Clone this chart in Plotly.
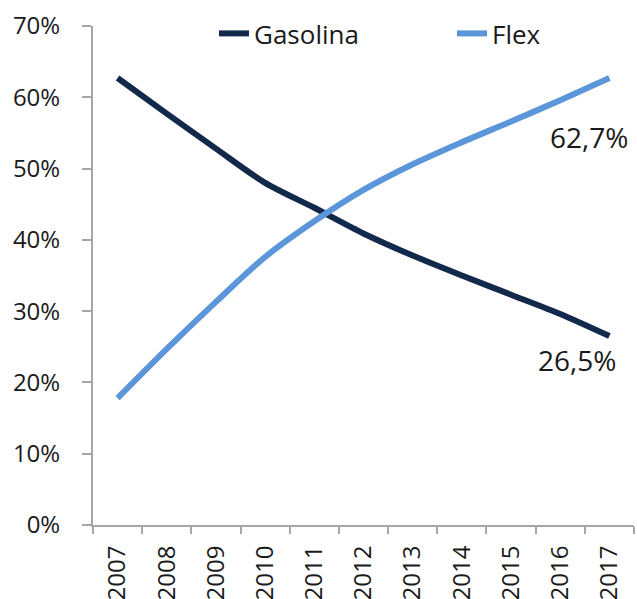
import plotly.graph_objects as go

# Vehicle fleet share by fuel type, 2007-2017 (percent)
years = ["2007", "2008", "2009", "2010", "2011", "2012", "2013", "2014", "2015", "2016", "2017"]
gasolina = [62.7, 57.7, 52.8, 48.0, 44.5, 40.9, 37.8, 35.0, 32.3, 29.6, 26.5]
flex = [17.8, 24.7, 31.3, 37.6, 42.6, 47.0, 50.6, 53.7, 56.6, 59.6, 62.7]
y_ticks = [0, 10, 20, 30, 40, 50, 60, 70]
y_tick_labels = ["0%", "10%", "20%", "30%", "40%", "50%", "60%", "70%"]


def pct_br(v):
    """Format a percentage with a decimal comma."""
    return f"{v:.1f}%".replace(".", ",")


dark = "#13294b"
light = "#5b96db"
axis_grey = "#a6a6a6"
text_col = "#1a1a1a"
font_family = "Open Sans, Liberation Sans, sans-serif"

fig = go.Figure()
fig.add_trace(go.Scatter(
    x=years, y=gasolina, name="Gasolina", mode="lines", legend="legend",
    line=dict(color=dark, width=6, shape="spline", smoothing=0.8),
))
fig.add_trace(go.Scatter(
    x=years, y=flex, name="Flex", mode="lines", legend="legend2",
    line=dict(color=light, width=6, shape="spline", smoothing=0.8),
))

# End-of-series value labels
last = len(years) - 1
fig.add_annotation(x=last, y=flex[-1], xref="x", yref="y", text=pct_br(flex[-1]),
                   showarrow=False, xshift=-20, yshift=-59,
                   font=dict(size=28, color=text_col, family=font_family))
fig.add_annotation(x=last, y=gasolina[-1], xref="x", yref="y", text=pct_br(gasolina[-1]),
                   showarrow=False, xshift=-32, yshift=-24,
                   font=dict(size=28, color=text_col, family=font_family))

legend_common = dict(
    orientation="h", yanchor="middle", y=0.985, xanchor="left",
    font=dict(size=26, color=text_col, family=font_family),
    bgcolor="rgba(0,0,0,0)",
)

fig.update_layout(
    width=637, height=599,
    margin=dict(l=93, r=3, t=26, b=74),
    paper_bgcolor="white", plot_bgcolor="white",
    font=dict(family=font_family, size=24, color=text_col),
    showlegend=True,
    legend=dict(x=0.2237, **legend_common),
    legend2=dict(x=0.6636, **legend_common),
    xaxis=dict(
        type="category", range=[-0.5, 10.5], automargin=False,
        showline=True, linecolor=axis_grey, linewidth=2,
        ticks="outside", ticklen=7, tickcolor=axis_grey, tickwidth=2,
        tickson="boundaries", tickangle=-90, ticklabelstandoff=9,
        showgrid=False, zeroline=False,
        tickfont=dict(size=24),
    ),
    yaxis=dict(
        range=[0, 70], tickvals=y_ticks, ticktext=y_tick_labels,
        automargin=False,
        showline=True, linecolor=axis_grey, linewidth=2,
        ticks="outside", ticklen=9, tickcolor=axis_grey, tickwidth=2,
        ticklabelstandoff=17,
        showgrid=False, zeroline=False,
        tickfont=dict(size=24),
    ),
)

fig.write_html("out.html")
